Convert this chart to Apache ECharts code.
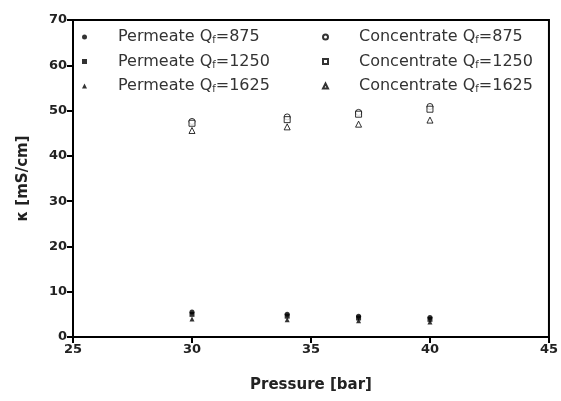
<!DOCTYPE html>
<html>
<head>
<meta charset="utf-8">
<script src="https://cdn.jsdelivr.net/npm/echarts@6/dist/echarts.min.js"></script>
<style>
  body { margin: 0; background: #fff; }
  #chart { width: 561px; height: 401px; }
</style>
</head>
<body>
<div id="chart"></div>
<script>
// pressure [bar]
const pressure = [30, 34, 37, 40];
// conductivity values [mS/cm]
const perm875 = [5.5, 5.0, 4.6, 4.3];
const perm1250 = [5.0, 4.6, 4.2, 3.9];
const perm1625 = [4.0, 3.8, 3.6, 3.3];
const conc875 = [47.6, 48.6, 49.6, 50.9];
const conc1250 = [47.2, 48.0, 49.2, 50.3];
const conc1625 = [45.6, 46.4, 47.0, 47.9];

const font = 'DejaVu Sans, sans-serif';

function pairs(ys) {
  return pressure.map((x, i) => [x, ys[i]]);
}

const chart = echarts.init(document.getElementById('chart'));

const filled = { color: '#000' };
const hollow = { color: '#fff', borderColor: '#000', borderWidth: 1 };

const legendText = {
  fontFamily: font,
  fontSize: 16,
  color: '#333',
  rich: {
    gap: { width: 26 },
    sub: { fontFamily: font, fontSize: 10, color: '#333', verticalAlign: 'bottom', padding: [7, 0, 0, 0] }
  }
};

function label(name) {
  // "Permeate Qf=875" -> subscript f, with space after the marker
  return '{gap|}' + name.replace('Qf', 'Q{sub|f}');
}

const axisText = { fontFamily: font, fontSize: 13, fontWeight: 'bold', color: '#222' };

const option = {
  animation: false,
  backgroundColor: '#fff',
  grid: {
    left: 73, right: 8, top: 20, bottom: 64,
    show: true, borderColor: '#000', borderWidth: 2
  },
  legend: [
    {
      left: 82, top: 29, orient: 'vertical', padding: 0,
      itemWidth: 5, itemHeight: 5, itemGap: 8,
      textStyle: legendText, formatter: label,
      data: ['Permeate Qf=875', 'Permeate Qf=1250', 'Permeate Qf=1625']
    },
    {
      left: 322, top: 29, orient: 'vertical', padding: 0,
      itemWidth: 5, itemHeight: 5, itemGap: 8,
      textStyle: legendText, formatter: label,
      data: ['Concentrate Qf=875', 'Concentrate Qf=1250', 'Concentrate Qf=1625']
    }
  ],
  xAxis: {
    type: 'value', min: 25, max: 45, interval: 5,
    name: 'Pressure [bar]', nameLocation: 'middle', nameGap: 41,
    nameTextStyle: Object.assign({}, axisText, { fontSize: 15 }),
    axisLine: { show: true, onZero: false, lineStyle: { color: '#000', width: 2 } },
    axisTick: { show: true, length: 6, lineStyle: { color: '#000', width: 2 } },
    axisLabel: Object.assign({ margin: 6 }, axisText),
    splitLine: { show: false }
  },
  yAxis: {
    type: 'value', min: 0, max: 70, interval: 10,
    name: 'κ [mS/cm]', nameLocation: 'middle', nameGap: 42,
    nameTextStyle: Object.assign({}, axisText, { fontSize: 15 }),
    axisLine: { show: true, onZero: false, lineStyle: { color: '#000', width: 2 } },
    axisTick: { show: true, length: 6, lineStyle: { color: '#000', width: 2 } },
    axisLabel: Object.assign({ margin: 6 }, axisText),
    splitLine: { show: false }
  },
  series: [
    { name: 'Permeate Qf=875', type: 'scatter', symbol: 'circle', symbolSize: 5, itemStyle: filled, data: pairs(perm875) },
    { name: 'Permeate Qf=1250', type: 'scatter', symbol: 'rect', symbolSize: 5, itemStyle: filled, data: pairs(perm1250) },
    { name: 'Permeate Qf=1625', type: 'scatter', symbol: 'triangle', symbolSize: 5, itemStyle: filled, data: pairs(perm1625) },
    { name: 'Concentrate Qf=875', type: 'scatter', symbol: 'circle', symbolSize: 6, itemStyle: hollow, data: pairs(conc875) },
    { name: 'Concentrate Qf=1250', type: 'scatter', symbol: 'rect', symbolSize: 6, itemStyle: hollow, data: pairs(conc1250) },
    { name: 'Concentrate Qf=1625', type: 'scatter', symbol: 'triangle', symbolSize: 6, itemStyle: hollow, data: pairs(conc1625) }
  ]
};

chart.setOption(option);
</script>
</body>
</html>
